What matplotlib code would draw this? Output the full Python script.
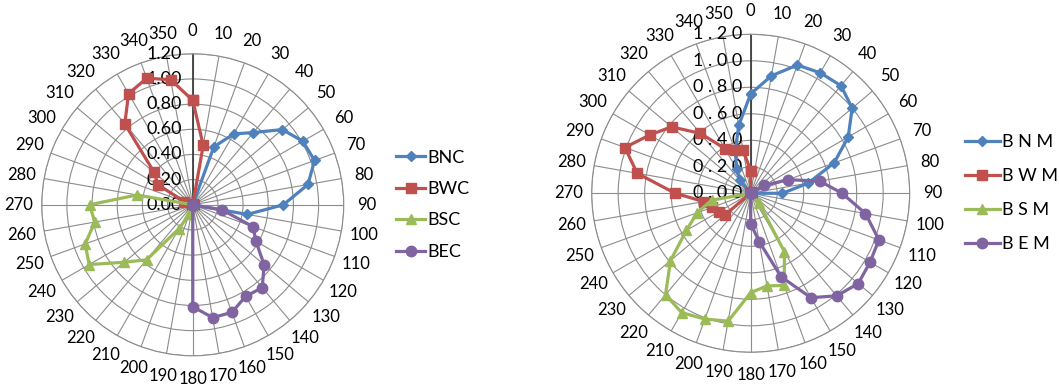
import numpy as np
import matplotlib
matplotlib.use("Agg")
import matplotlib.pyplot as plt

plt.rcParams['font.family'] = ['Lato', 'DejaVu Sans']

# category angles (degrees) shared by both radar charts
angles = list(range(0, 360, 10))
angle_labels = [str(a) for a in angles]

# radial axis ticks
r_ticks = [0.0, 0.2, 0.4, 0.6, 0.8, 1.0, 1.2]
r_labels_left = ["0.00", "0.20", "0.40", "0.60", "0.80", "1.00", "1.20"]
r_labels_right = ["0 . 0 0", "0 . 2 0", "0 . 4 0", "0 . 6 0", "0 . 8 0", "1 . 0 0", "1 . 2 0"]

# left chart series (0, 10, ..., 350 degrees)
bnc = [0, 0, 0.49, 0.65, 0.75, 0.93, 1.01, 1.03, 0.93, 0.72, 0.44, 0,
       0, 0, 0, 0, 0, 0, 0, 0, 0, 0, 0, 0,
       0, 0, 0, 0, 0, 0, 0, 0, 0, 0, 0, 0]
bwc = [0.83, 0.48, 0, 0, 0, 0, 0, 0, 0, 0, 0, 0,
       0, 0, 0, 0, 0, 0, 0, 0, 0, 0, 0, 0,
       0, 0, 0, 0, 0, 0.07, 0.32, 0.40, 0.84, 1.02, 1.07, 1.01]
bsc = [0, 0, 0, 0, 0, 0, 0, 0, 0, 0, 0, 0,
       0, 0, 0, 0, 0, 0, 0, 0, 0.08, 0.22, 0.57, 0.71,
       0.95, 0.91, 0.79, 0.82, 0.45, 0, 0, 0, 0, 0, 0, 0]
bec = [0, 0, 0, 0, 0, 0, 0, 0, 0, 0, 0.24, 0.51,
       0.58, 0.74, 0.86, 0.84, 0.91, 0.91, 0.81, 0, 0, 0, 0, 0,
       0, 0, 0, 0, 0, 0, 0, 0, 0, 0, 0, 0]

# right chart series
bnm = [0.75, 0.90, 1.03, 1.05, 1.06, 1.00, 0.85, 0.67, 0.44, 0.24, 0, 0,
       0, 0, 0, 0, 0, 0, 0, 0, 0, 0, 0, 0,
       0, 0, 0, 0, 0, 0, 0, 0, 0.13, 0.21, 0.34, 0.52]
bwm = [0.17, 0, 0, 0, 0, 0, 0, 0, 0, 0, 0, 0,
       0, 0, 0, 0, 0, 0, 0, 0, 0, 0, 0, 0.25,
       0.28, 0.31, 0.36, 0.57, 0.87, 1.01, 0.88, 0.78, 0.59, 0.39, 0.35, 0.33]
bsm = [0, 0, 0, 0, 0, 0, 0, 0, 0, 0, 0, 0,
       0, 0, 0.10, 0.51, 0.74, 0.71, 0.75, 0.98, 1.01, 1.04, 1.00, 0.79,
       0.56, 0.43, 0.30, 0, 0, 0, 0, 0, 0, 0, 0, 0]
bem = [0, 0, 0, 0, 0, 0, 0.12, 0.30, 0.53, 0.69, 0.88, 1.03,
       1.04, 1.06, 1.01, 0.91, 0.67, 0.37, 0.23, 0, 0, 0, 0, 0,
       0, 0, 0, 0, 0, 0, 0, 0, 0, 0, 0, 0]

colors = ['#4F81BD', '#C0504D', '#9BBB59', '#8064A2']
markers = [('D', 5), ('s', 6.5), ('^', 7.5), ('o', 7.5)]
grid_col = '#8C8C8C'


def radar(ax, series, names, r_labels, label_gap):
    theta = np.deg2rad(angles + [angles[0]])
    ax.set_theta_zero_location('N')
    ax.set_theta_direction(-1)
    ax.set_ylim(0, 1.2)
    ax.set_thetagrids(angles, angle_labels)
    ax.set_rgrids(r_ticks, [''] * len(r_ticks))
    ax.tick_params(axis='x', labelsize=12, pad=6, colors='black')
    ax.xaxis.grid(True, color=grid_col, lw=0.8)
    ax.yaxis.grid(True, color=grid_col, lw=0.8)
    ax.spines['polar'].set_color(grid_col)
    ax.spines['polar'].set_linewidth(0.8)
    # darker value axis along 0 degrees
    ax.plot([0, 0], [0, 1.2], color='#404040', lw=1.3, zorder=2.5)
    for r, lab in zip(r_ticks, r_labels):
        ax.annotate(lab, xy=(0, r), xytext=(-label_gap, 0), textcoords='offset pixels',
                    ha='right', va='center', fontsize=13, zorder=3)
    handles = []
    for vals, name, c, (m, ms) in zip(series, names, colors, markers):
        v = vals + [vals[0]]
        h, = ax.plot(theta, v, color=c, lw=2.3, marker=m, ms=ms, mfc=c, mec=c,
                     zorder=4, clip_on=False, label=name)
        handles.append(h)
    return handles


fig = plt.figure(figsize=(10.59, 3.87), dpi=100)

ax1 = fig.add_axes([0.0394, 0.0806, 0.2852, 0.7804], projection='polar')
h1 = radar(ax1, [bnc, bwc, bsc, bec], ['BNC', 'BWC', 'BSC', 'BEC'], r_labels_left, 11)
ax1.legend(handles=h1, loc='center left', bbox_to_anchor=(1.15, 0.5), frameon=False,
           fontsize=13, handlelength=1.6, handletextpad=0.15, labelspacing=0.85,
           borderaxespad=0)

ax2 = fig.add_axes([0.5587, 0.0897, 0.3003, 0.8217], projection='polar')
h2 = radar(ax2, [bnm, bwm, bsm, bem], ['B N M', 'B W M', 'B S M', 'B E M'], r_labels_right, 8)
ax2.legend(handles=h2, loc='center left', bbox_to_anchor=(1.152, 0.5), frameon=False,
           fontsize=13, handlelength=1.9, handletextpad=0.15, labelspacing=1.0,
           borderaxespad=0)

fig.savefig('out.png', dpi=100)
